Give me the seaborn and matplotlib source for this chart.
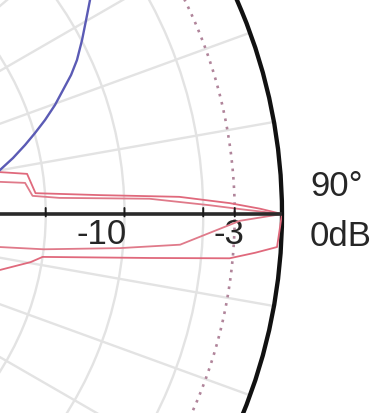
import numpy as np
import pandas as pd
import matplotlib
matplotlib.use("Agg")
import matplotlib.pyplot as plt
import seaborn as sns

sns.set_theme(style="white")
plt.rcParams['font.family'] = ['Liberation Sans', 'DejaVu Sans']

# Radiation pattern, angle in degrees (0 = up, clockwise), level in dB
red_a_deg = [80.4, 81.7, 85.8, 86.9, 87.7, 88.7, 89.4, 90.0, 93.6, 94.4, 95.3, 96.3, 98.4, 99.8, 102.7]
red_a_db = [-17.7, -16.0, -15.6, -11.5, -6.5, -3.3, -1.4, 0.0, -0.25, -1.6, -3.2, -8.2, -15.0, -15.7, -17.5]

red_b_deg = [82.6, 83.5, 86.3, 87.0, 87.8, 88.9, 89.5, 90.0, 90.8, 94.1, 95.3, 96.9, 97.6]
red_b_db = [-17.8, -16.2, -15.8, -14.1, -8.4, -4.6, -2.35, 0.0, -2.67, -6.4, -10.2, -15.0, -17.8]

blue_deg = [52.0, 57.66, 59.85, 62.2, 64.65, 66.45, 68.26, 70.22, 72.21, 74.03, 75.82, 77.89, 79.94, 83.0]
blue_db = [-6.6, -8.25, -9.12, -9.96, -10.82, -11.55, -12.39, -13.21, -14.11, -14.96, -15.77, -16.7, -17.66, -19.0]

ring_levels = [-30, -25, -20, -15, -10, -5]
tick_levels = [-15, -10, -5, -3]
half_power_db = -3
axis_deg = 90
r_min = -33.65

W, H = 376, 413
cx, cy, R = -248, 214, 530   # pixel centre and radius of the 0 dB circle

fig = plt.figure(figsize=(W / 100, H / 100), dpi=100)
ax = fig.add_axes([(cx - R) / W, (H - cy - R) / H, 2 * R / W, 2 * R / H], projection='polar')
ax.set_theta_zero_location('N')
ax.set_theta_direction(-1)
ax.set_rlim(r_min, 0)

ax.set_rticks(ring_levels)
ax.set_thetagrids(np.arange(0, 360, 10), labels=[])
ax.set_yticklabels([])
ax.grid(True, color='#e3e3e3', linewidth=1.7)
ax.spines['polar'].set_linewidth(3.1)
ax.spines['polar'].set_color('#111111')

# -3 dB ring
ring_t = np.linspace(0, 2 * np.pi, 721)
ax.plot(ring_t, np.full_like(ring_t, half_power_db), color='#b0849a',
        linewidth=1.9, linestyle=(0, (1, 2.2)), zorder=3)

df = pd.concat([
    pd.DataFrame({'theta': np.deg2rad(red_a_deg), 'db': red_a_db, 'trace': 'a'}),
    pd.DataFrame({'theta': np.deg2rad(red_b_deg), 'db': red_b_db, 'trace': 'b'}),
    pd.DataFrame({'theta': np.deg2rad(blue_deg), 'db': blue_db, 'trace': 'h'}),
])
styles = {'a': ('#e0697c', 1.3), 'b': ('#e07a8a', 1.3), 'h': ('#5b5bb5', 1.7)}
for name, sub in df.groupby('trace'):
    col, lw = styles[name]
    sns.lineplot(data=sub, x='theta', y='db', sort=False, estimator=None,
                 color=col, linewidth=lw, ax=ax, legend=False, zorder=4)

# bold 90 degree axis with level ticks
a = np.deg2rad(axis_deg)
ax.plot([a, a], [r_min, 0], color='#2a2a2a', linewidth=2.6, zorder=5, solid_capstyle='butt')
for lvl in tick_levels:
    rpx = R * (lvl - r_min) / (-r_min)
    d = np.rad2deg(6.0 / rpx)
    ax.plot(np.deg2rad([axis_deg - d, axis_deg + d * 0.4]), [lvl, lvl],
            color='#1a1a1a', linewidth=1.4, zorder=6)

ax.set_xlabel('')
ax.set_ylabel('')

fs = 25
ax.annotate('-10', xy=(a, -10), xytext=(-23, -20), textcoords='offset pixels',
            ha='center', va='center', fontsize=fs, color='#262626', annotation_clip=False)
ax.annotate('-3', xy=(a, -3), xytext=(-6, -20), textcoords='offset pixels',
            ha='center', va='center', fontsize=fs, color='#262626', annotation_clip=False)
ax.annotate('90°', xy=(a, 0), xytext=(28, 28), textcoords='offset pixels',
            ha='left', va='center', fontsize=fs, color='#262626', annotation_clip=False)
ax.annotate('0dB', xy=(a, 0), xytext=(28, -23), textcoords='offset pixels',
            ha='left', va='center', fontsize=fs, color='#262626', annotation_clip=False)

fig.savefig('out.png', dpi=100)
